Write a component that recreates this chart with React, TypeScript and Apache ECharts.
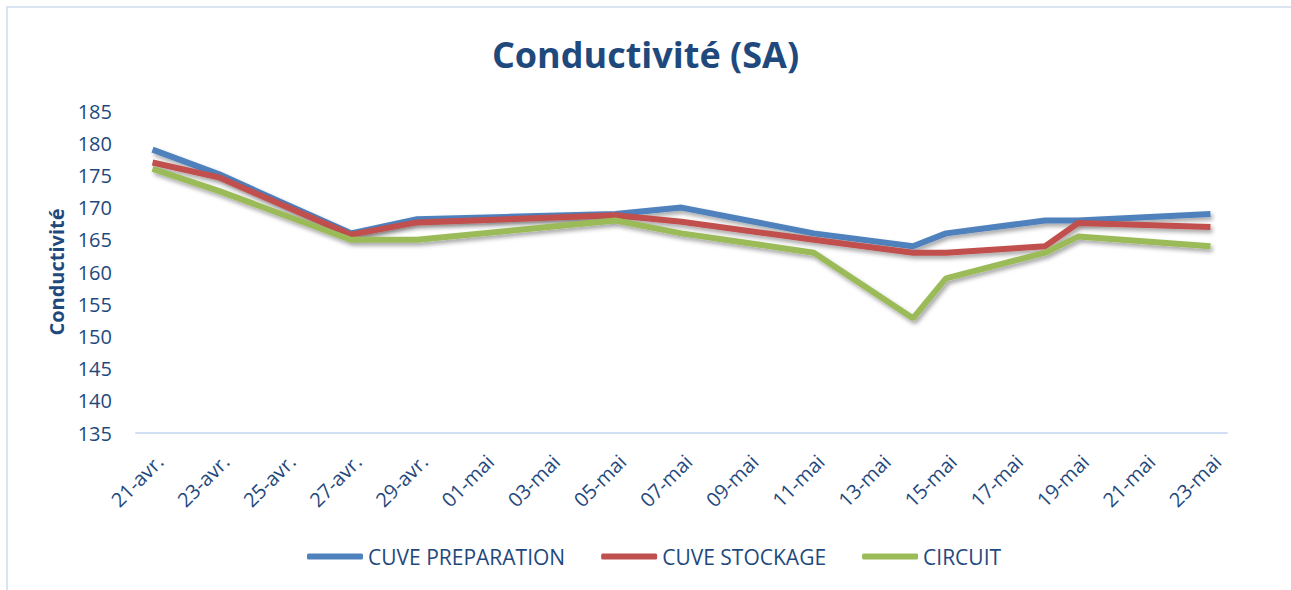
import React, { useEffect, useRef } from "react";
import * as echarts from "echarts";

const dayLabels = [
  "21-avr.", "22-avr.", "23-avr.", "24-avr.", "25-avr.", "26-avr.", "27-avr.", "28-avr.", "29-avr.", "30-avr.",
  "01-mai", "02-mai", "03-mai", "04-mai", "05-mai", "06-mai", "07-mai", "08-mai", "09-mai", "10-mai",
  "11-mai", "12-mai", "13-mai", "14-mai", "15-mai", "16-mai", "17-mai", "18-mai", "19-mai", "20-mai",
  "21-mai", "22-mai", "23-mai",
];

const pointDates = ["21-avr.", "23-avr.", "27-avr.", "29-avr.", "05-mai", "07-mai", "11-mai", "14-mai", "15-mai", "18-mai", "19-mai", "23-mai"];

const cuvePreparation = [179, 175.2, 166, 168.2, 169, 170, 166, 164, 166, 168, 168, 169];
const cuveStockage = [177, 174.7, 165.8, 167.7, 168.8, 167.8, 165, 163, 163, 164, 167.6, 167];
const circuit = [176, 172.6, 165, 165, 168, 166, 163, 152.8, 159, 163, 165.5, 164];

const seriesNames = ["CUVE PREPARATION", "CUVE STOCKAGE", "CIRCUIT"];
const seriesColors = ["#4f81bd", "#c0504d", "#9bbb59"];
const seriesValues = [cuvePreparation, cuveStockage, circuit];

const TEXT = "#1f497d";
const FONT = "'Open Sans', 'Noto Sans', sans-serif";

export default function App() {
  const ref = useRef<HTMLDivElement>(null);
  useEffect(() => {
    if (!ref.current) return;
    const chart = echarts.init(ref.current, null, { renderer: "svg" });
    chart.setOption({
      animation: false,
      backgroundColor: "#ffffff",
      textStyle: { fontFamily: FONT },
      title: {
        text: "Conductivité (SA)",
        left: "center",
        top: 36,
        padding: 0,
        textStyle: { fontFamily: FONT, fontSize: 36, fontWeight: "bold", color: TEXT },
      },
      graphic: [
        {
          type: "rect",
          shape: { x: 7, y: 7, width: 1300, height: 600 },
          style: { fill: "none", stroke: "#dbe5f1", lineWidth: 2 },
          silent: true,
        },
      ],
      legend: {
        left: 307,
        top: 546,
        padding: 0,
        icon: "roundRect",
        itemWidth: 56,
        itemHeight: 6,
        itemGap: 36,
        textStyle: { fontFamily: FONT, fontSize: 21, color: TEXT },
        data: seriesNames,
      },
      grid: { left: 136, right: 64, top: 111, bottom: 157 },
      xAxis: {
        type: "category",
        data: dayLabels,
        boundaryGap: true,
        axisLine: { lineStyle: { color: "#d0dff1", width: 2 } },
        axisTick: { show: false },
        axisLabel: {
          interval: 1,
          rotate: 45,
          margin: 18,
          verticalAlign: "top",
          fontFamily: FONT,
          fontSize: 20,
          color: TEXT,
        },
        splitLine: { show: false },
      },
      yAxis: {
        type: "value",
        min: 135,
        max: 185,
        interval: 5,
        name: "Conductivité",
        nameLocation: "middle",
        nameGap: 70,
        nameRotate: 90,
        nameTextStyle: { fontFamily: FONT, fontSize: 20, fontWeight: "bold", color: TEXT },
        axisLine: { show: false },
        axisTick: { show: false },
        splitLine: { show: false },
        axisLabel: { fontFamily: FONT, fontSize: 20, color: TEXT, margin: 24 },
      },
      series: seriesNames.map((name, i) => ({
        name,
        type: "line",
        data: pointDates.map((d, j) => [d, seriesValues[i][j]]),
        showSymbol: false,
        symbol: "none",
        color: seriesColors[i],
        lineStyle: {
          color: seriesColors[i],
          width: 6,
          shadowColor: "rgba(0,0,0,0.35)",
          shadowBlur: 4,
          shadowOffsetX: 2,
          shadowOffsetY: 3,
        },
      })),
    });
    return () => chart.dispose();
  }, []);
  return (
    <div
      ref={ref}
      style={{ position: "absolute", left: 0, top: 0, width: 1291, height: 590 }}
    />
  );
}
